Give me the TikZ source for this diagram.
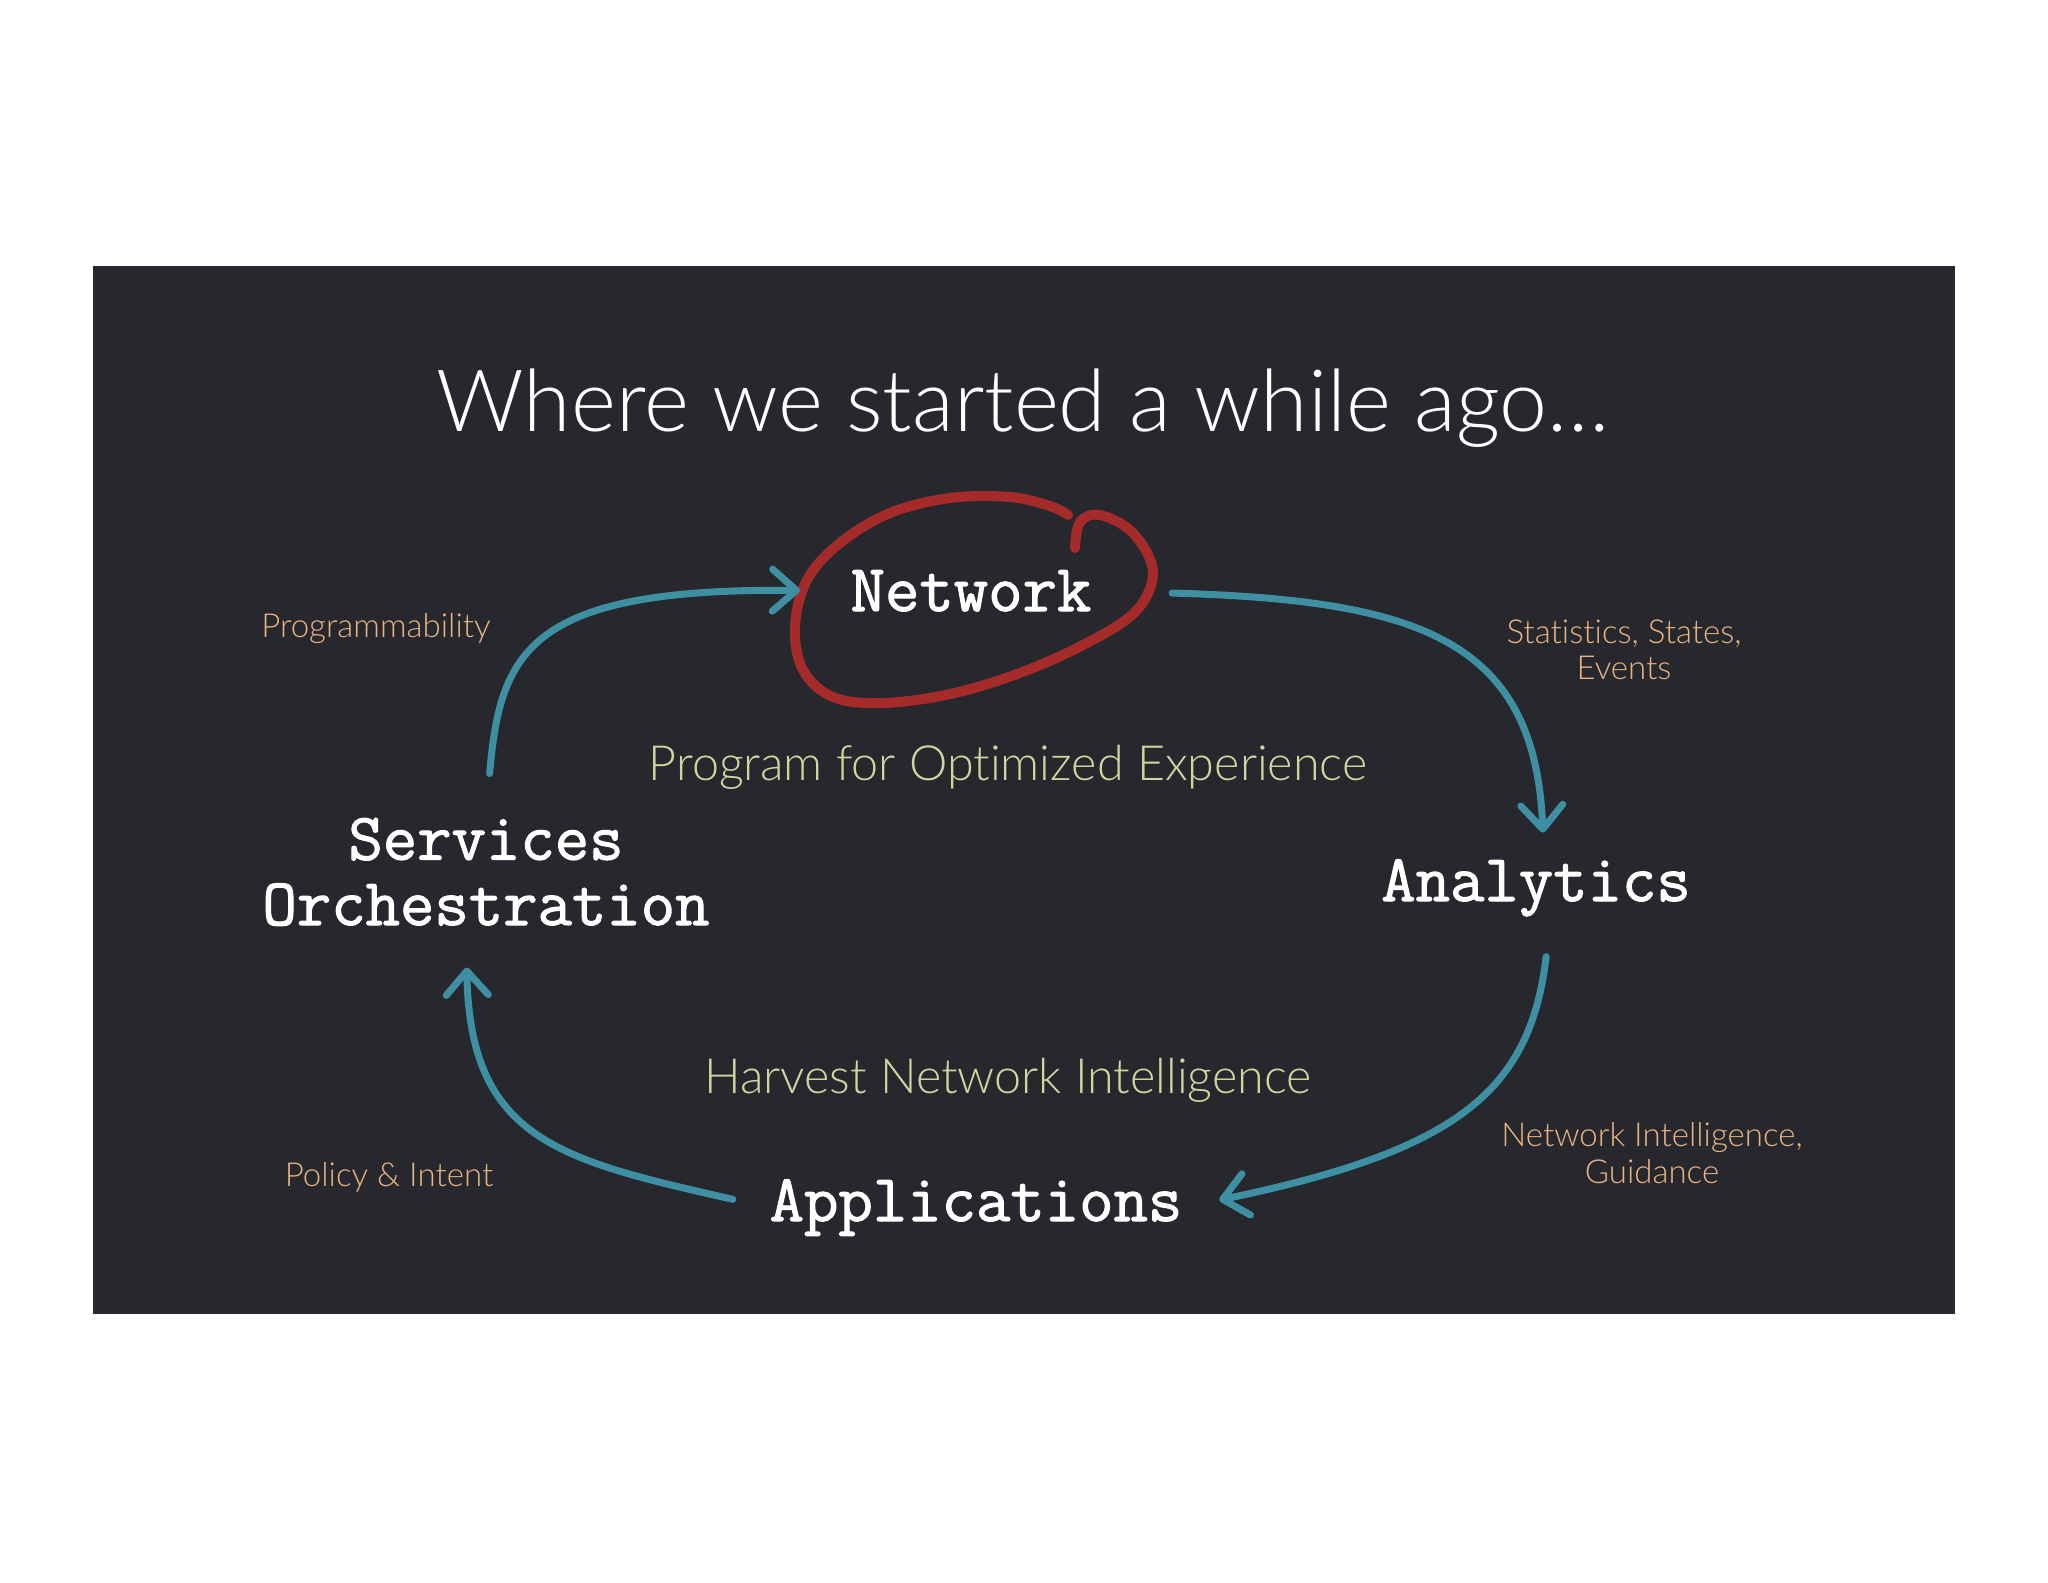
\documentclass[tikz,border=0pt]{standalone}
\usepackage{fontspec}
\setmainfont{Lato}[UprightFont={* Light}, Ligatures={NoCommon}]
\newfontfamily\handfont{Latin Modern Mono}[FakeBold=1.6]
\usetikzlibrary{
    arrows.meta,
    positioning
}
\definecolor{boardbg}{HTML}{26282E}
\definecolor{arrowteal}{HTML}{3F8FA2}
\definecolor{circlered}{HTML}{A52A2A}
\definecolor{labelorange}{HTML}{EAB483}
\definecolor{themegreen}{HTML}{CDD8A0}

\begin{document}
\begin{tikzpicture}[
    x=0.1mm,
    y=-0.1mm,
    hand/.style = {
        font=\handfont\fontsize{19}{18.6}\selectfont,
        text=white,
        align=center,
        inner sep=0pt
    },
    side/.style = {
        font=\fontsize{9.4}{10.4}\selectfont,
        text=labelorange,
        align=center,
        inner sep=0pt
    },
    theme/.style = {
        font=\fontsize{13.8}{16}\selectfont,
        text=themegreen,
        inner sep=0pt
    },
    cyclearrow/.style = {
        draw=arrowteal,
        line width=0.7mm,
        line cap=round,
        -{Straight Barb[length=2.4mm, width=4.2mm, round]}
    },
]
    \useasboundingbox (0,0) rectangle (2048,1582);
    \fill [white] (0,0) rectangle (2048,1582);
    \fill [boardbg] (93,266) rectangle (1955,1314);

    % Title and themes
    \node [anchor=base, text=white, font=\fontsize{24.5}{30}\selectfont, inner sep=0pt]
        (title) at (1023,431) {Where we started a while ago\ldots};
    \node [theme, anchor=base] (program_theme) at (1008,780)
        {Program for Optimized Experience};
    \node [theme, anchor=base] (harvest_theme) at (1008,1093)
        {Harvest Network Intelligence};

    % Cycle nodes
    \node [hand, anchor=base] (network) at (971,611) {Network};
    \node [hand, anchor=base] (analytics) at (1536,901) {Analytics};
    \node [hand, anchor=base] (applications) at (976,1221) {Applications};
    \node [hand, anchor=base] (services) at (486,925) {Services\\Orchestration};

    % Side labels
    \node [side] (prog_label) at (376,629) {Programmability};
    \node [side] (stats_label) at (1624,650) {Statistics, States,\\Events};
    \node [side] (intel_label) at (1652,1153) {Network Intelligence,\\Guidance};
    \node [side] (policy_label) at (389,1177) {Policy \& Intent};

    % Red loop round the network
    \draw [circlered, line width=1mm, line cap=round, line join=round]
        plot [smooth, tension=0.6] coordinates {
            (1075,548) (1080,522) (1100,515) (1133,533) (1153,572)
            (1135,612) (1083,645) (1017,674) (950,694) (883,703)
            (833,697) (803,670) (795,627) (807,580) (840,543)
            (890,513) (950,498) (1010,497) (1050,506) (1068,515)
        };

    \begin{scope}[every path/.style={cyclearrow}]
        \draw [shorten <=4.4mm, shorten >=5mm]
            (services.north) .. controls (500,650) and (530,588) .. (network.west);
        \draw [shorten <=8mm, shorten >=2.6mm]
            (network.east) .. controls (1420,600) and (1535,640) .. ([xshift=0.8mm]analytics.north);
        \draw [shorten <=4mm, shorten >=3.7mm]
            ([xshift=1.5mm]analytics.south) .. controls (1530,1090) and (1460,1150) .. (applications.east);
        \draw [shorten <=3.7mm, shorten >=4.1mm]
            (applications.west) .. controls (560,1160) and (470,1140) .. ([xshift=-2mm]services.south);
    \end{scope}
\end{tikzpicture}
\end{document}
